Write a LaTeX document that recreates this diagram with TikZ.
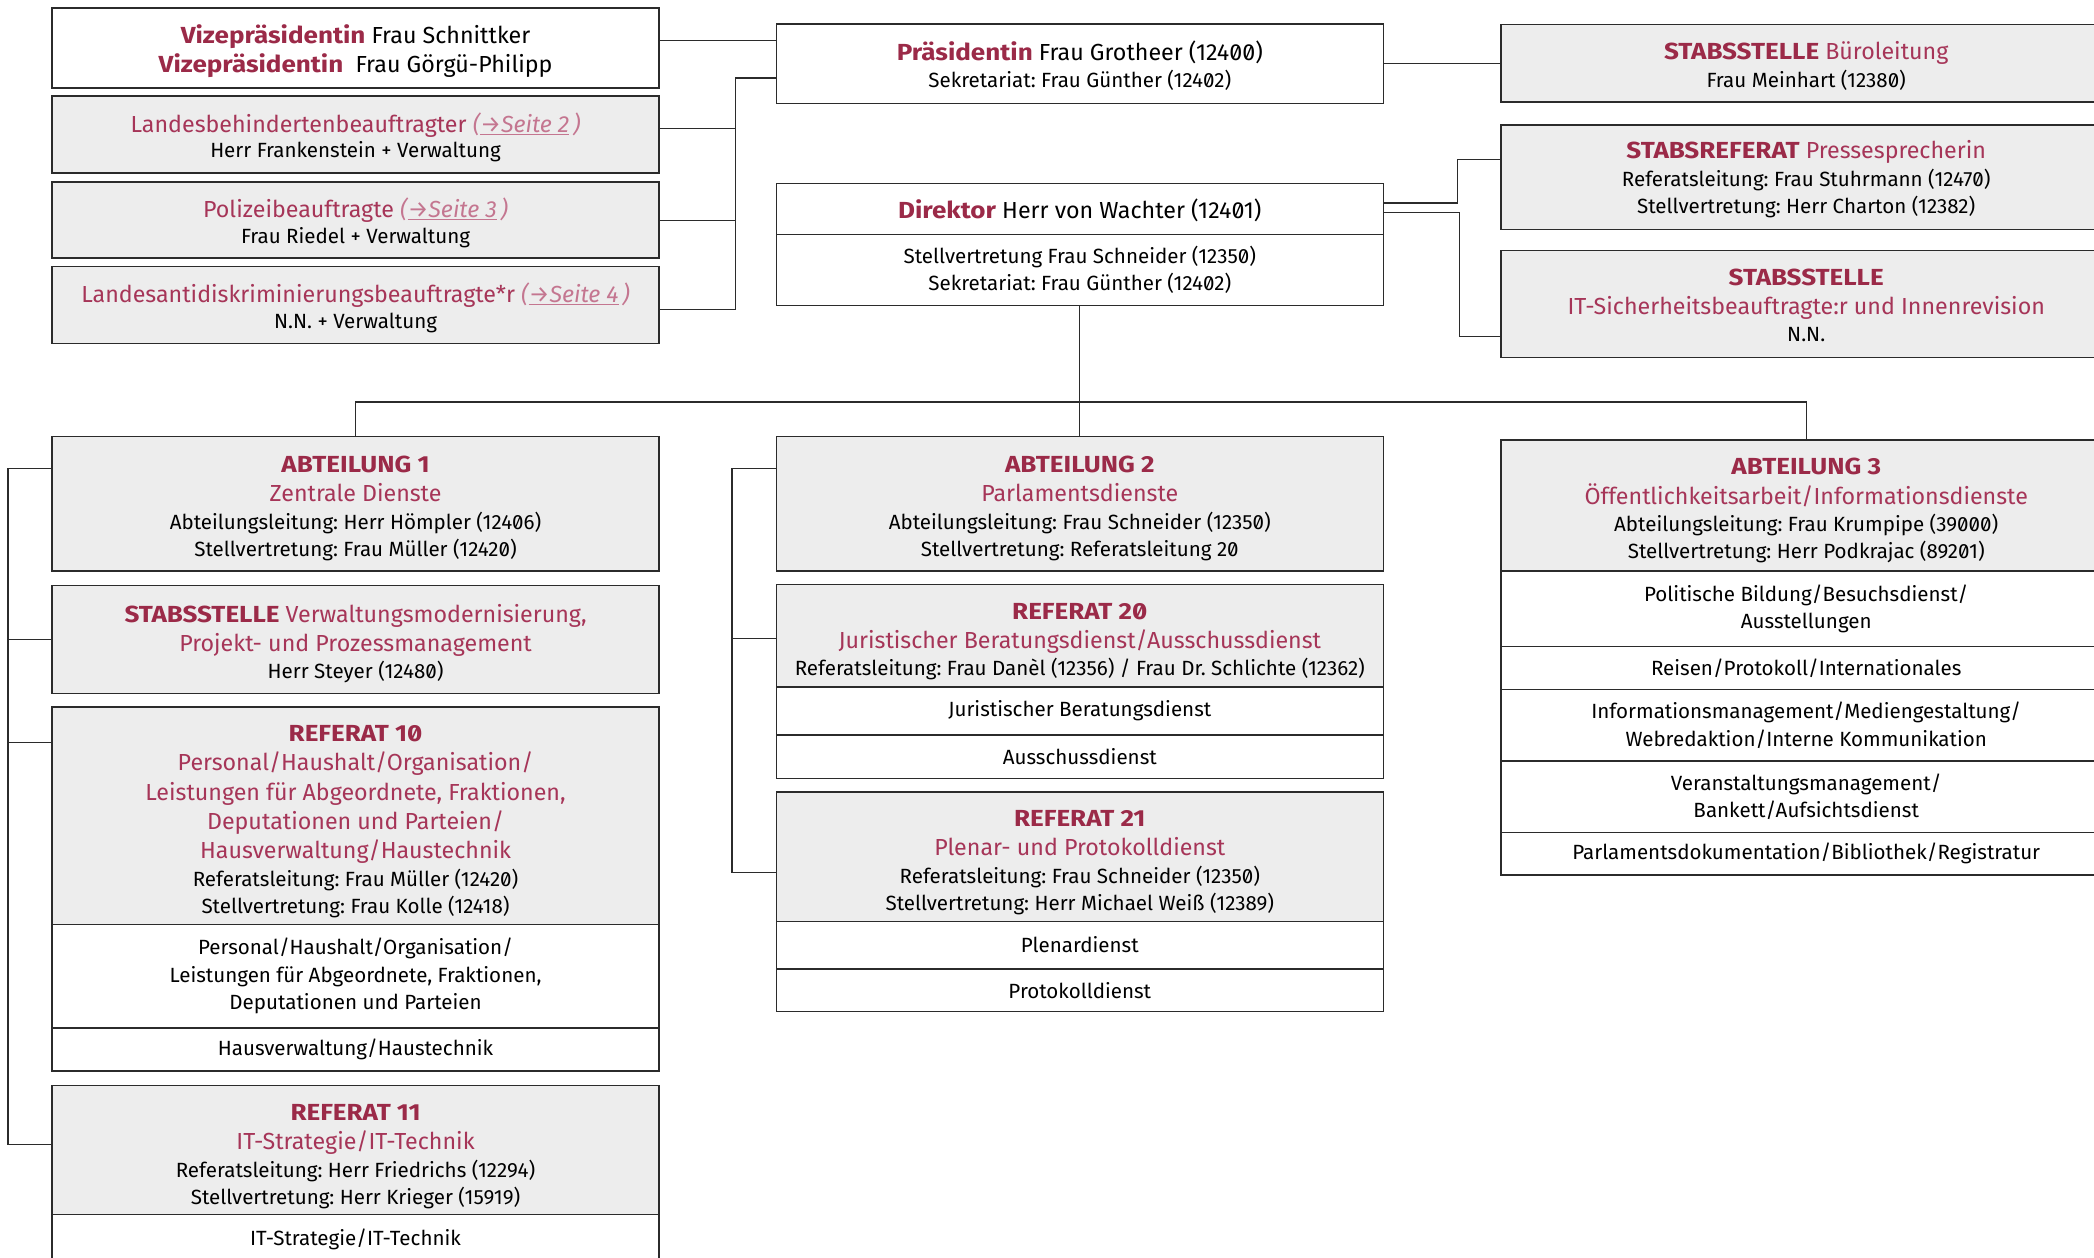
\documentclass[tikz,border=0pt]{standalone}
\usepackage{fontspec}
\setmainfont[RawFeature=+zero,BoldFeatures={FakeStretch=1.12}]{Fira Sans}
\definecolor{crimB}{HTML}{9B2A48}
\definecolor{crimR}{HTML}{A63558}
\definecolor{pinkc}{HTML}{C47690}
\definecolor{boxgray}{HTML}{EDEDED}
\definecolor{edge}{HTML}{2B2B2B}
\newcommand{\Ttl}[1]{{\fontsize{17.4}{22}\selectfont #1\par}}
\newcommand{\Bdy}[1]{{\fontsize{15.4}{20.5}\selectfont #1\par}}
\newcommand{\Bdt}[1]{{\fontsize{15.4}{19.2}\selectfont #1\par}}
\newcommand{\CL}[2][0]{\raisebox{-#1pt}[\height][\depth]{\parbox{454.5pt}{\centering\lineskiplimit=-8pt #2}}}
\newcommand{\CR}[2][0]{\raisebox{-#1pt}[\height][\depth]{\parbox{457pt}{\centering\lineskiplimit=-8pt #2}}}
\newcommand{\Hd}[1]{\textcolor{crimB}{\textbf{#1}}}
\newcommand{\Rd}[1]{\textcolor{crimR}{#1}}
\newcommand{\Seite}[1]{\textcolor{pinkc}{\textit{(\underline{→Seite #1}\,)}}}
\frenchspacing
\begin{document}
\begin{tikzpicture}[x=1pt,y=-1pt,
  bx/.style={draw=edge,line width=1pt,inner sep=0pt,anchor=north west,font=\fontsize{15.4}{20.5}\selectfont},
  gb/.style={bx,fill=boxgray},
  wb/.style={bx,fill=white},
  conn/.style={draw=edge,line width=1pt}]
\useasboundingbox (0,0) rectangle (1568,941.3);
% left top column
\node[wb,minimum height=60pt] (vz) at (38.5,5.5) {\CL[2.5]{\Ttl{\Hd{Vizepräsidentin} Frau Schnittker}\Ttl{\Hd{Vizepräsidentin}\ \ Frau Görgü-Philipp}}};
\node[gb,minimum height=57.5pt] (lb) at (38.5,71.5) {\CL[2]{\Ttl{\Rd{Landesbehindertenbeauftragter} \Seite{2}}\Bdt{Herr Frankenstein + Verwaltung}}};
\node[gb,minimum height=57pt] (pz) at (38.5,135.8) {\CL[2]{\Ttl{\Rd{Polizeibeauftragte} \Seite{3}}\Bdt{Frau Riedel + Verwaltung}}};
\node[gb,minimum height=57.3pt] (la) at (38.5,199.3) {\CL[2]{\Ttl{\Rd{Landesantidiskriminierungsbeauftragte*r} \Seite{4}}\Bdt{N.N. + Verwaltung}}};
% centre top
\node[wb,minimum height=59.5pt] (pr) at (580.8,17.5) {\CL[1.5]{\Ttl{\Hd{Präsidentin} Frau Grotheer (12400)}\Bdy{Sekretariat: Frau Günther (12402)}}};
\node[wb,minimum height=38.5pt] (dt) at (580.8,136.8) {\CL[1]{\Ttl{\Hd{Direktor} Herr von Wachter (12401)}}};
\node[wb,minimum height=53.2pt] (db) at (580.8,175.3) {\CL[-0.5]{\Bdy{Stellvertretung Frau Schneider (12350)}\Bdy{Sekretariat: Frau Günther (12402)}}};
% right top
\node[gb,minimum height=58pt] (bl) at (1123.5,17.8) {\CR[2]{\Ttl{\Hd{STABSSTELLE} \Rd{Büroleitung}}\Bdy{Frau Meinhart (12380)}}};
\node[gb,minimum height=78.3pt] (ps) at (1123.5,93) {\CR[1.5]{\Ttl{\Hd{STABSREFERAT} \Rd{Pressesprecherin}}\Bdy{Referatsleitung: Frau Stuhrmann (12470)}\Bdy{Stellvertretung: Herr Charton (12382)}}};
\node[gb,minimum height=79.7pt] (it) at (1123.5,187.3) {\CR[1]{\Ttl{\Hd{STABSSTELLE}}\Ttl{\Rd{IT-Sicherheitsbeauftragte:r und Innenrevision}}\Bdy{N.N.}}};
% Abteilung 1
\node[gb,minimum height=100.4pt] (a1) at (38.5,326.6) {\CL[3.5]{\Ttl{\Hd{ABTEILUNG 1}}\Ttl{\Rd{Zentrale Dienste}}\Bdy{Abteilungsleitung: Herr Hömpler (12406)}\Bdy{Stellvertretung: Frau Müller (12420)}}};
\node[gb,minimum height=80.8pt] (sv) at (38.5,438) {\CL[3]{\Ttl{\Hd{STABSSTELLE} \Rd{Verwaltungsmodernisierung,}}\Ttl{\Rd{Projekt- und Prozessmanagement}}\Bdy{Herr Steyer (12480)}}};
\node[gb,minimum height=162.8pt] (r10h) at (38.5,528.8) {\CL[4.5]{\Ttl{\Hd{REFERAT 10}}\Ttl{\Rd{Personal/Haushalt/Organisation/}}\Ttl{\Rd{Leistungen für Abgeordnete, Fraktionen,}}\Ttl{\Rd{Deputationen und Parteien/}}\Ttl{\Rd{Hausverwaltung/Haustechnik}}\Bdy{Referatsleitung: Frau Müller (12420)}\Bdy{Stellvertretung: Frau Kolle (12418)}}};
\node[wb,minimum height=77.6pt] (r10a) at (38.5,691.6) {\CL{\Bdy{Personal/Haushalt/Organisation/}\Bdy{Leistungen für Abgeordnete, Fraktionen,}\Bdy{Deputationen und Parteien}}};
\node[wb,minimum height=32.2pt] (r10b) at (38.5,769.2) {\CL{\Bdy{Hausverwaltung/Haustechnik}}};
\node[gb,minimum height=96.6pt] (r11h) at (38.5,812.2) {\CL[5]{\Ttl{\Hd{REFERAT 11}}\Ttl{\Rd{IT-Strategie/IT-Technik}}\Bdy{Referatsleitung: Herr Friedrichs (12294)}\Bdy{Stellvertretung: Herr Krieger (15919)}}};
\node[wb,minimum height=37pt] (r11a) at (38.5,908.8) {\CL{\Bdy{IT-Strategie/IT-Technik}}};
% Abteilung 2
\node[gb,minimum height=100.4pt] (a2) at (580.8,326.6) {\CL[3.5]{\Ttl{\Hd{ABTEILUNG 2}}\Ttl{\Rd{Parlamentsdienste}}\Bdy{Abteilungsleitung: Frau Schneider (12350)}\Bdy{Stellvertretung: Referatsleitung 20}}};
\node[gb,minimum height=76.6pt] (r20h) at (580.8,437.2) {\CL[4.5]{\Ttl{\Hd{REFERAT 20}}\Ttl{\Rd{Juristischer Beratungsdienst/Ausschussdienst}}\Bdy{Referatsleitung: Frau Danèl (12356) / Frau Dr. Schlichte (12362)}}};
\node[wb,minimum height=36pt] (r20a) at (580.8,513.8) {\CL{\Bdy{Juristischer Beratungsdienst}}};
\node[wb,minimum height=32.7pt] (r20b) at (580.8,549.8) {\CL{\Bdy{Ausschussdienst}}};
\node[gb,minimum height=96.8pt] (r21h) at (580.8,592.5) {\CL[4.5]{\Ttl{\Hd{REFERAT 21}}\Ttl{\Rd{Plenar- und Protokolldienst}}\Bdy{Referatsleitung: Frau Schneider (12350)}\Bdy{Stellvertretung: Herr Michael Weiß (12389)}}};
\node[wb,minimum height=35.7pt] (r21a) at (580.8,689.3) {\CL{\Bdy{Plenardienst}}};
\node[wb,minimum height=32pt] (r21b) at (580.8,725) {\CL{\Bdy{Protokolldienst}}};
% Abteilung 3
\node[gb,minimum height=98pt] (a3) at (1123.5,329) {\CR[4]{\Ttl{\Hd{ABTEILUNG 3}}\Ttl{\Rd{Öffentlichkeitsarbeit/Informationsdienste}}\Bdy{Abteilungsleitung: Frau Krumpipe (39000)}\Bdy{Stellvertretung: Herr Podkrajac (89201)}}};
\node[wb,minimum height=56.6pt] (a3a) at (1123.5,427) {\CR{\Bdy{Politische Bildung/Besuchsdienst/}\Bdy{Ausstellungen}}};
\node[wb,minimum height=32.2pt] (a3b) at (1123.5,483.6) {\CR{\Bdy{Reisen/Protokoll/Internationales}}};
\node[wb,minimum height=53.5pt] (a3c) at (1123.5,515.8) {\CR{\Bdy{Informationsmanagement/Mediengestaltung/}\Bdy{Webredaktion/Interne Kommunikation}}};
\node[wb,minimum height=53.4pt] (a3d) at (1123.5,569.3) {\CR{\Bdy{Veranstaltungsmanagement/}\Bdy{Bankett/Aufsichtsdienst}}};
\node[wb,minimum height=31.9pt] (a3e) at (1123.5,622.7) {\CR{\Bdy{Parlamentsdokumentation/Bibliothek/Registratur}}};
% connectors top left
\coordinate (v1) at ([yshift=-25pt]vz.north east);
\draw[conn] (v1) -- (v1 -| pr.west);
\coordinate (p2) at ([yshift=-41pt]pr.north west);
\coordinate (lbE) at ([yshift=-24.5pt]lb.north east);
\coordinate (pzE) at ([yshift=-29.2pt]pz.north east);
\coordinate (laE) at ([yshift=-32.7pt]la.north east);
\coordinate (tp) at (550.5,0);
\draw[conn] (p2) -| (tp |- laE) -- (laE);
\draw[conn] (lbE) -- (tp |- lbE);
\draw[conn] (pzE) -- (tp |- pzE);
% connectors top right
\draw[conn] (pr.east) -- (pr.east -| bl.west);
\coordinate (d1) at ([yshift=-15.2pt]dt.north east);
\coordinate (d2) at ([yshift=-22.2pt]dt.north east);
\coordinate (psW) at ([yshift=-26.5pt]ps.north west);
\coordinate (itW) at ([yshift=-64.7pt]it.north west);
\coordinate (e1) at (1091.5,0);
\coordinate (e2) at (1092.8,0);
\draw[conn] (d1) -| (e1 |- psW) -- (psW);
\draw[conn] (d2) -| (e2 |- itW) -- (itW);
% hierarchy
\coordinate (hb) at (0,301);
\draw[conn] (db.south) -- (db.south |- hb);
\draw[conn] (a1.north) -- (a1.north |- hb) -- (a3.north |- hb) -- (a3.north);
\draw[conn] (a2.north |- hb) -- (a2.north);
% left trunk
\coordinate (t1) at (6,0);
\coordinate (a1W) at ([yshift=-24.4pt]a1.north west);
\coordinate (r10W) at ([yshift=-27pt]r10h.north west);
\coordinate (r11W) at ([yshift=-44.8pt]r11h.north west);
\draw[conn] (a1W) -- (t1 |- a1W) -- (t1 |- r11W) -- (r11W);
\draw[conn] (sv.west) -- (t1 |- sv.west);
\draw[conn] (r10W) -- (t1 |- r10W);
% middle trunk
\coordinate (t2) at (548,0);
\coordinate (a2W) at ([yshift=-24.4pt]a2.north west);
\coordinate (r20W) at ([yshift=-40.8pt]r20h.north west);
\coordinate (r21W) at ([yshift=-61pt]r21h.north west);
\draw[conn] (a2W) -- (t2 |- a2W) -- (t2 |- r21W) -- (r21W);
\draw[conn] (r20W) -- (t2 |- r20W);
\end{tikzpicture}
\end{document}
